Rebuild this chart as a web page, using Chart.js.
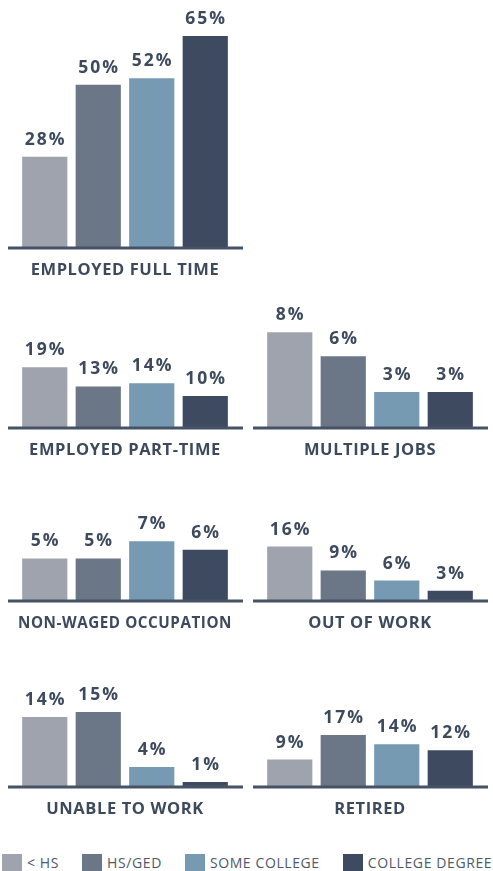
<!DOCTYPE html>
<html>
<head>
<meta charset="utf-8">
<script src="https://cdn.jsdelivr.net/npm/chart.js@4.4.1/dist/chart.umd.min.js"></script>
<style>
  body { margin: 0; background: #fff; font-family: 'Open Sans', sans-serif; }
  #wrap { position: relative; width: 493px; height: 871px; overflow: hidden; }
  .panel { position: absolute; }
  #legend { position: absolute; left: 2px; top: 853px; display: flex; gap: 23px; font-size: 14px; letter-spacing: 0.6px; color: #4d586b; }
  #legend span.item { display: flex; align-items: center; white-space: nowrap; }
  #legend i { display: inline-block; width: 20px; height: 18px; margin-right: 5px; }
</style>
</head>
<body>
<div id="wrap">
  <div id="legend"></div>
</div>
<script>
// education levels (categories) and their colours
const categories = ['< HS', 'HS/GED', 'SOME COLLEGE', 'COLLEGE DEGREE']
const colors = ['#9ea3ad', '#6b7687', '#769ab2', '#3e4a60']

// one small array per panel, values in percent
const fullTime = [28, 50, 52, 65]
const partTime = [19, 13, 14, 10]
const multipleJobs = [8, 6, 3, 3]
const nonWaged = [5, 5, 7, 6]
const outOfWork = [16, 9, 6, 3]
const unableToWork = [14, 15, 4, 1]
const retired = [9, 17, 14, 12]

const titles = ['EMPLOYED FULL TIME', 'EMPLOYED PART-TIME', 'MULTIPLE JOBS',
  'NON-WAGED OCCUPATION', 'OUT OF WORK', 'UNABLE TO WORK', 'RETIRED']
const series = [fullTime, partTime, multipleJobs, nonWaged, outOfWork, unableToWork, retired]
// each panel has its own value axis
const yMax = [76, 40, 10.7, 14.2, 35.6, 25.4, 41.6]

// panel placement: [left, top, plot height]
const slots = [
  [8, 0, 248],
  [8, 300, 128], [253, 300, 128],
  [8, 480, 121], [253, 480, 121],
  [8, 660, 127], [253, 660, 127],
]

const ink = '#3d4a5e'

// slightly spaced lettering for the title
const spacing = {
  id: 'spacing',
  beforeDraw(chart) {
    chart.ctx.letterSpacing = '0.6px'
  }
}

// draws the percent labels above the bars
const valueLabels = {
  id: 'valueLabels',
  afterDatasetsDraw(chart) {
    const ctx = chart.ctx
    const meta = chart.getDatasetMeta(0)
    ctx.save()
    ctx.fillStyle = ink
    ctx.font = 'bold 17.5px "Open Sans"'
    ctx.letterSpacing = '2px'
    ctx.textAlign = 'center'
    ctx.textBaseline = 'alphabetic'
    meta.data.forEach((bar, i) => {
      ctx.fillText(chart.data.datasets[0].data[i] + '%', bar.x + 1, bar.y - 12)
    })
    ctx.restore()
  }
}

// thick baseline under the bars, across the whole panel
const baseline = {
  id: 'baseline',
  afterDatasetsDraw(chart) {
    const ctx = chart.ctx
    const y = chart.scales.y.getPixelForValue(0)
    ctx.save()
    ctx.strokeStyle = '#465266'
    ctx.lineWidth = 3
    ctx.beginPath()
    ctx.moveTo(0, y)
    ctx.lineTo(chart.width, y)
    ctx.stroke()
    ctx.restore()
  }
}

const wrap = document.getElementById('wrap')

series.forEach((values, i) => {
  const [left, top, plotH] = slots[i]
  const div = document.createElement('div')
  div.className = 'panel'
  div.style.left = left + 'px'
  div.style.top = top + 'px'
  const canvas = document.createElement('canvas')
  canvas.width = 235
  canvas.height = plotH + 40
  canvas.style.width = '235px'
  canvas.style.height = (plotH + 40) + 'px'
  div.appendChild(canvas)
  wrap.appendChild(div)

  new Chart(canvas, {
    type: 'bar',
    data: {
      labels: categories,
      datasets: [{
        data: values,
        backgroundColor: colors,
        borderWidth: 0,
        barPercentage: 0.845,
        categoryPercentage: 1,
      }],
    },
    options: {
      responsive: false,
      animation: false,
      layout: {padding: {left: 10, right: 11, top: 0, bottom: 0}},
      scales: {
        x: {display: false},
        y: {display: false, min: 0, max: yMax[i]},
      },
      plugins: {
        legend: {display: false},
        tooltip: {enabled: false},
        title: {
          display: true,
          position: 'bottom',
          text: titles[i],
          color: ink,
          font: {family: 'Open Sans', size: 16.5, weight: 'bold', lineHeight: 1.2},
          padding: {top: 12.1, bottom: 8.1},
        },
      },
    },
    plugins: [spacing, valueLabels, baseline],
  })
})

// legend built from the same categories and colours
const legend = document.getElementById('legend')
categories.forEach((name, i) => {
  const item = document.createElement('span')
  item.className = 'item'
  const sw = document.createElement('i')
  sw.style.background = colors[i]
  item.appendChild(sw)
  item.appendChild(document.createTextNode(name))
  legend.appendChild(item)
})
</script>
</body>
</html>
